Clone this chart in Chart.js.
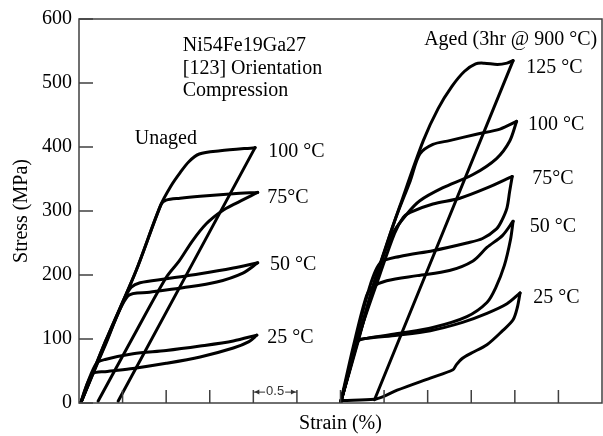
<!DOCTYPE html>
<html>
<head>
<meta charset="utf-8">
<script src="https://cdn.jsdelivr.net/npm/chart.js@4.4.1/dist/chart.umd.min.js"></script>
<style>
  html, body { margin: 0; padding: 0; background: #fff; }
  #wrap { width: 603px; height: 436px; }
</style>
</head>
<body>
<div id="wrap"><canvas id="chart"></canvas></div>
<script>
// values: [strain %, stress MPa]
// unaged loops
const u25Load = [[0.02,0],[0.1,32],[0.2,62],[0.3,68],[0.62,77],[1.0,82],[1.39,89],[1.77,97],[2.04,106]];
const u25Unload = [[2.04,106],[1.95,96],[1.77,86],[1.39,72],[1.0,62],[0.62,54],[0.3,49],[0.16,46],[0.08,25],[0.02,0]];
const u50Load = [[0.02,0],[0.3,92],[0.53,165],[0.6,181],[0.7,188],[1.0,194],[1.39,202],[1.77,211],[2.05,219]];
const u50Unload = [[2.05,219],[1.88,203],[1.58,189],[1.19,180],[0.81,173],[0.56,167],[0.3,90],[0.02,0]];
const u75Load = [[0.02,0],[0.3,95],[0.65,205],[0.94,310],[1.0,317],[1.16,320],[1.39,323],[1.77,327],[2.05,329]];
const u75Unload = [[2.05,329],[1.8,312],[1.64,300],[1.46,280],[1.3,253],[1.15,222],[1.0,196],[0.62,103],[0.22,3]];
const u100Load = [[0.02,0],[0.3,95],[0.65,205],[0.94,310],[1.05,338],[1.15,358],[1.26,377],[1.38,389],[1.62,394],[2.02,399]];
const u100Unload = [[2.02,399],[0.45,3]];

// aged loops (3 hr @ 900 C)
const a25Load = [[3.0,0],[3.1,50],[3.2,97],[3.3,101],[3.65,106],[4.03,113],[4.4,126],[4.68,140],[4.91,155],[5.06,172]];
const a25Unload = [[5.06,172],[5.03,150],[4.98,130],[4.86,113],[4.68,91],[4.5,78],[4.4,70],[4.33,60],[4.29,52],[4.03,39],[3.65,20],[3.49,10],[3.39,6],[3.03,4]];
const a50Load = [[3.0,0],[3.15,90],[3.3,168],[3.38,182],[3.53,191],[3.88,199],[4.25,207],[4.52,222],[4.68,243],[4.86,262],[4.98,284]];
const a50Unload = [[4.98,284],[4.95,255],[4.88,215],[4.78,180],[4.68,157],[4.45,135],[4.06,118],[3.68,109],[3.3,101],[3.2,96],[3.1,50],[3.0,0]];
const a75Load = [[3.0,0],[3.2,100],[3.45,200],[3.62,265],[3.72,290],[3.8,298],[4.06,311],[4.37,320],[4.68,336],[4.97,354]];
const a75Unload = [[4.97,354],[4.94,330],[4.91,305],[4.85,285],[4.79,272],[4.63,257],[4.45,250],[4.06,238],[3.68,229],[3.45,218],[3.3,165],[3.12,65],[3.0,0]];
const a100Load = [[3.0,0],[3.2,98],[3.45,212],[3.62,284],[3.8,347],[3.91,389],[4.06,404],[4.25,410],[4.56,420],[4.83,428],[5.02,440]];
const a100Unload = [[5.02,440],[4.94,409],[4.79,382],[4.52,357],[4.17,336],[3.91,316],[3.76,295],[3.6,265],[3.4,195],[3.2,95],[3.0,0]];
const a125Load = [[3.0,0],[3.2,100],[3.45,215],[3.7,315],[3.95,410],[4.12,460],[4.28,495],[4.42,518],[4.55,530],[4.65,531],[4.8,529],[4.91,531],[4.98,535]];
const a125Unload = [[4.98,535],[3.39,5]];

const curves = [u25Load, u25Unload, u50Load, u50Unload, u75Load, u75Unload, u100Load, u100Unload,
                a25Load, a25Unload, a50Load, a50Unload, a75Load, a75Unload, a100Load, a100Unload, a125Load, a125Unload];

// tick marks (drawn inward), y labels come from the scale
const yTickMarks = [0, 100, 200, 300, 400, 500, 600];
const xTickMarks = [0.5, 1, 1.5, 2, 2.5, 3, 3.5, 4, 4.5, 5, 5.5];

// text placed in data units [text, strain, stress]
const notes = [
  ['Ni54Fe19Ga27', 1.19, 550],
  ['[123] Orientation', 1.19, 514],
  ['Compression', 1.19, 479],
  ['Unaged', 0.64, 404],
  ['Aged (3hr @ 900 \u00B0C)', 3.96, 560],
  ['100 \u00B0C', 2.17, 384],
  ['75\u00B0C', 2.16, 312],
  ['50 \u00B0C', 2.19, 208],
  ['25 \u00B0C', 2.16, 93],
  ['125 \u00B0C', 5.13, 515],
  ['100 \u00B0C', 5.15, 427],
  ['75\u00B0C', 5.2, 342],
  ['50 \u00B0C', 5.17, 267],
  ['25 \u00B0C', 5.21, 157]
];
// scale bar
const barFrom = 2.0, barTo = 2.5, barStress = 17, barText = '0.5';

const serif = '"Liberation Serif", "Times New Roman", serif';

const frame = {
  id: 'frame',
  afterDatasetsDraw(chart) {
    const {ctx, chartArea: a, scales: {x, y}} = chart;
    ctx.save();
    ctx.strokeStyle = '#404040';
    ctx.lineWidth = 1.5;
    ctx.strokeRect(a.left, a.top, a.right - a.left, a.bottom - a.top);
    ctx.beginPath();
    yTickMarks.forEach(v => {
      const py = y.getPixelForValue(v);
      ctx.moveTo(a.left, py);
      ctx.lineTo(a.left + 14, py);
    });
    xTickMarks.forEach(v => {
      const px = x.getPixelForValue(v);
      ctx.moveTo(px, a.bottom);
      ctx.lineTo(px, a.bottom - 13);
    });
    ctx.stroke();

    ctx.fillStyle = '#000';
    ctx.font = '20px ' + serif;
    ctx.textAlign = 'left';
    ctx.textBaseline = 'alphabetic';
    notes.forEach(([t, vx, vy]) => ctx.fillText(t, x.getPixelForValue(vx), y.getPixelForValue(vy)));

    // 0.5 marker between two ticks
    const x0 = x.getPixelForValue(barFrom), x1 = x.getPixelForValue(barTo);
    const by = y.getPixelForValue(barStress), mid = (x0 + x1) / 2;
    ctx.font = '13px "Liberation Sans", Arial, sans-serif';
    ctx.fillStyle = '#333';
    ctx.textAlign = 'center';
    ctx.fillText(barText, mid, by + 3);
    const w = ctx.measureText(barText).width / 2 + 1;
    ctx.strokeStyle = '#333';
    ctx.lineWidth = 1;
    ctx.beginPath();
    ctx.moveTo(x0, by); ctx.lineTo(mid - w, by);
    ctx.moveTo(mid + w, by); ctx.lineTo(x1, by);
    ctx.stroke();
    ctx.beginPath();
    ctx.moveTo(x0 + 1, by); ctx.lineTo(x0 + 6, by - 2.5); ctx.lineTo(x0 + 6, by + 2.5); ctx.closePath();
    ctx.moveTo(x1 - 1, by); ctx.lineTo(x1 - 6, by - 2.5); ctx.lineTo(x1 - 6, by + 2.5); ctx.closePath();
    ctx.fill();
    ctx.restore();
  }
};

new Chart(document.getElementById('chart'), {
  type: 'scatter',
  data: {
    datasets: curves.map(c => ({
      data: c.map(([x, y]) => ({x, y})),
      showLine: true,
      borderColor: '#000',
      borderWidth: 3,
      pointRadius: 0,
      tension: 0.3,
      borderCapStyle: 'round',
      borderJoinStyle: 'round'
    }))
  },
  options: {
    responsive: true,
    maintainAspectRatio: false,
    animation: false,
    layout: { padding: { top: 17, right: 1, left: 0, bottom: 0 } },
    plugins: {
      legend: { display: false },
      tooltip: { enabled: false }
    },
    scales: {
      x: {
        type: 'linear',
        min: 0,
        max: 6,
        ticks: { display: false },
        grid: { display: false, drawTicks: false },
        border: { display: false },
        title: {
          display: true,
          text: 'Strain (%)',
          color: '#000',
          font: { family: serif, size: 20 },
          padding: 0
        },
        afterFit: s => { s.height = 33; }
      },
      y: {
        min: 0,
        max: 600,
        ticks: {
          stepSize: 100,
          color: '#000',
          padding: 7,
          font: { family: serif, size: 20 }
        },
        grid: { display: false, drawTicks: false },
        border: { display: false },
        title: {
          display: true,
          text: 'Stress (MPa)',
          color: '#000',
          font: { family: serif, size: 20 },
          padding: { top: 10, bottom: 0 }
        },
        afterFit: s => { s.width = 79; }
      }
    }
  },
  plugins: [frame]
});
</script>
</body>
</html>
